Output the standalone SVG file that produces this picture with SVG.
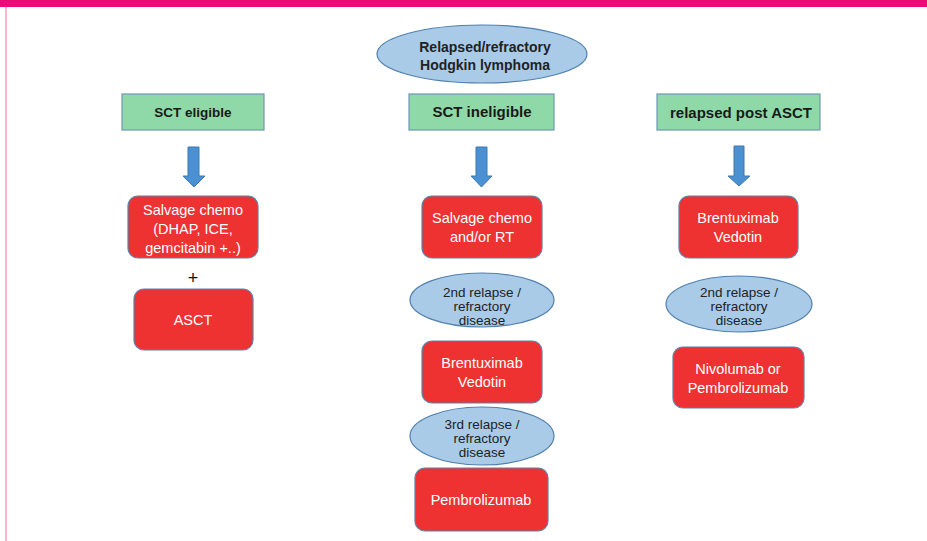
<svg xmlns="http://www.w3.org/2000/svg" width="927" height="541" viewBox="0 0 927 541">
<style>
.bar{fill:#EC0A7A}
.side{fill:#F7B6CC}
.green rect{fill:#8FD9A8;stroke:#6F97B8;stroke-width:1.2}
.green text{font-family:"Liberation Sans",Arial,sans-serif;font-weight:bold;fill:#1a1a1a;text-anchor:middle}
.red rect{fill:#EE3131;stroke:#5F82A8;stroke-width:1.2}
.red text{font-family:"Liberation Sans",Arial,sans-serif;font-size:14.5px;fill:#ffffff;text-anchor:middle}
.oval ellipse{fill:#A9CBE8;stroke:#4F7FAF;stroke-width:1.2}
.oval text{font-family:"Liberation Sans",Arial,sans-serif;font-size:13.5px;fill:#222222;text-anchor:middle}
.top text{font-weight:bold;font-size:14px}
.arrow{fill:#4A90D2;stroke:#3E78AE;stroke-width:1}
.plus{font-family:"Liberation Sans",Arial,sans-serif;font-size:18px;fill:#111;text-anchor:middle}
</style>
<rect width="927" height="541" fill="#ffffff"/>
<rect class="bar" x="0" y="0" width="927" height="7"/>
<rect class="side" x="5" y="7" width="2" height="534"/>

<g id="root" class="oval top">
<ellipse cx="482" cy="54" rx="105" ry="29"/>
<text x="485" y="52">Relapsed/refractory</text>
<text x="485" y="70">Hodgkin lymphoma</text>
</g>

<g id="sct-eligible" class="green">
<rect x="122" y="94" width="142" height="36"/>
<text x="193" y="117" font-size="13.5">SCT eligible</text>
</g>
<g id="sct-ineligible" class="green">
<rect x="409" y="94" width="145" height="36"/>
<text x="482" y="117" font-size="15">SCT ineligible</text>
</g>
<g id="relapsed-post-asct" class="green">
<rect x="657" y="94" width="163" height="36"/>
<text x="741" y="118" font-size="15">relapsed post ASCT</text>
</g>

<g id="connectors">
<polygon class="arrow" points="188,147 199,147 199,176 205,176 194,187 183,176 188,176"/>
<polygon class="arrow" points="476,147 487,147 487,176 492,176 481.5,187 471,176 476,176"/>
<polygon class="arrow" points="734,146 744,146 744,176 750,176 739,186 728,176 734,176"/>
</g>

<g id="salvage-left" class="red">
<rect x="128" y="196" width="130" height="62" rx="10"/>
<text x="193" y="215">Salvage chemo</text>
<text x="193" y="234">(DHAP, ICE,</text>
<text x="193" y="253">gemcitabin +..)</text>
</g>
<text class="plus" x="193" y="284">+</text>
<g id="asct" class="red">
<rect x="134" y="289" width="119" height="61" rx="10"/>
<text x="193" y="325">ASCT</text>
</g>

<g id="salvage-mid" class="red">
<rect x="422" y="196" width="120" height="62" rx="10"/>
<text x="482" y="223">Salvage chemo</text>
<text x="482" y="242">and/or RT</text>
</g>
<g id="relapse2-mid" class="oval">
<ellipse cx="482" cy="300" rx="72" ry="27"/>
<text x="482" y="296.5">2nd relapse /</text>
<text x="482" y="310.5">refractory</text>
<text x="482" y="324.5">disease</text>
</g>
<g id="bv-mid" class="red">
<rect x="422" y="341" width="120" height="62" rx="10"/>
<text x="482" y="368">Brentuximab</text>
<text x="482" y="387">Vedotin</text>
</g>
<g id="relapse3-mid" class="oval">
<ellipse cx="482" cy="436" rx="72" ry="29"/>
<text x="482" y="428.5">3rd relapse /</text>
<text x="482" y="442.5">refractory</text>
<text x="482" y="456.5">disease</text>
</g>
<g id="pembro-mid" class="red">
<rect x="415" y="468" width="133" height="63" rx="10"/>
<text x="481" y="505">Pembrolizumab</text>
</g>

<g id="bv-right" class="red">
<rect x="679" y="196" width="119" height="62" rx="10"/>
<text x="738" y="223">Brentuximab</text>
<text x="738" y="242">Vedotin</text>
</g>
<g id="relapse2-right" class="oval">
<ellipse cx="739" cy="304" rx="73" ry="28"/>
<text x="739" y="297">2nd relapse /</text>
<text x="739" y="311">refractory</text>
<text x="739" y="325">disease</text>
</g>
<g id="nivo-right" class="red">
<rect x="673" y="347" width="131" height="61" rx="10"/>
<text x="738" y="374">Nivolumab or</text>
<text x="738" y="393">Pembrolizumab</text>
</g>
</svg>
